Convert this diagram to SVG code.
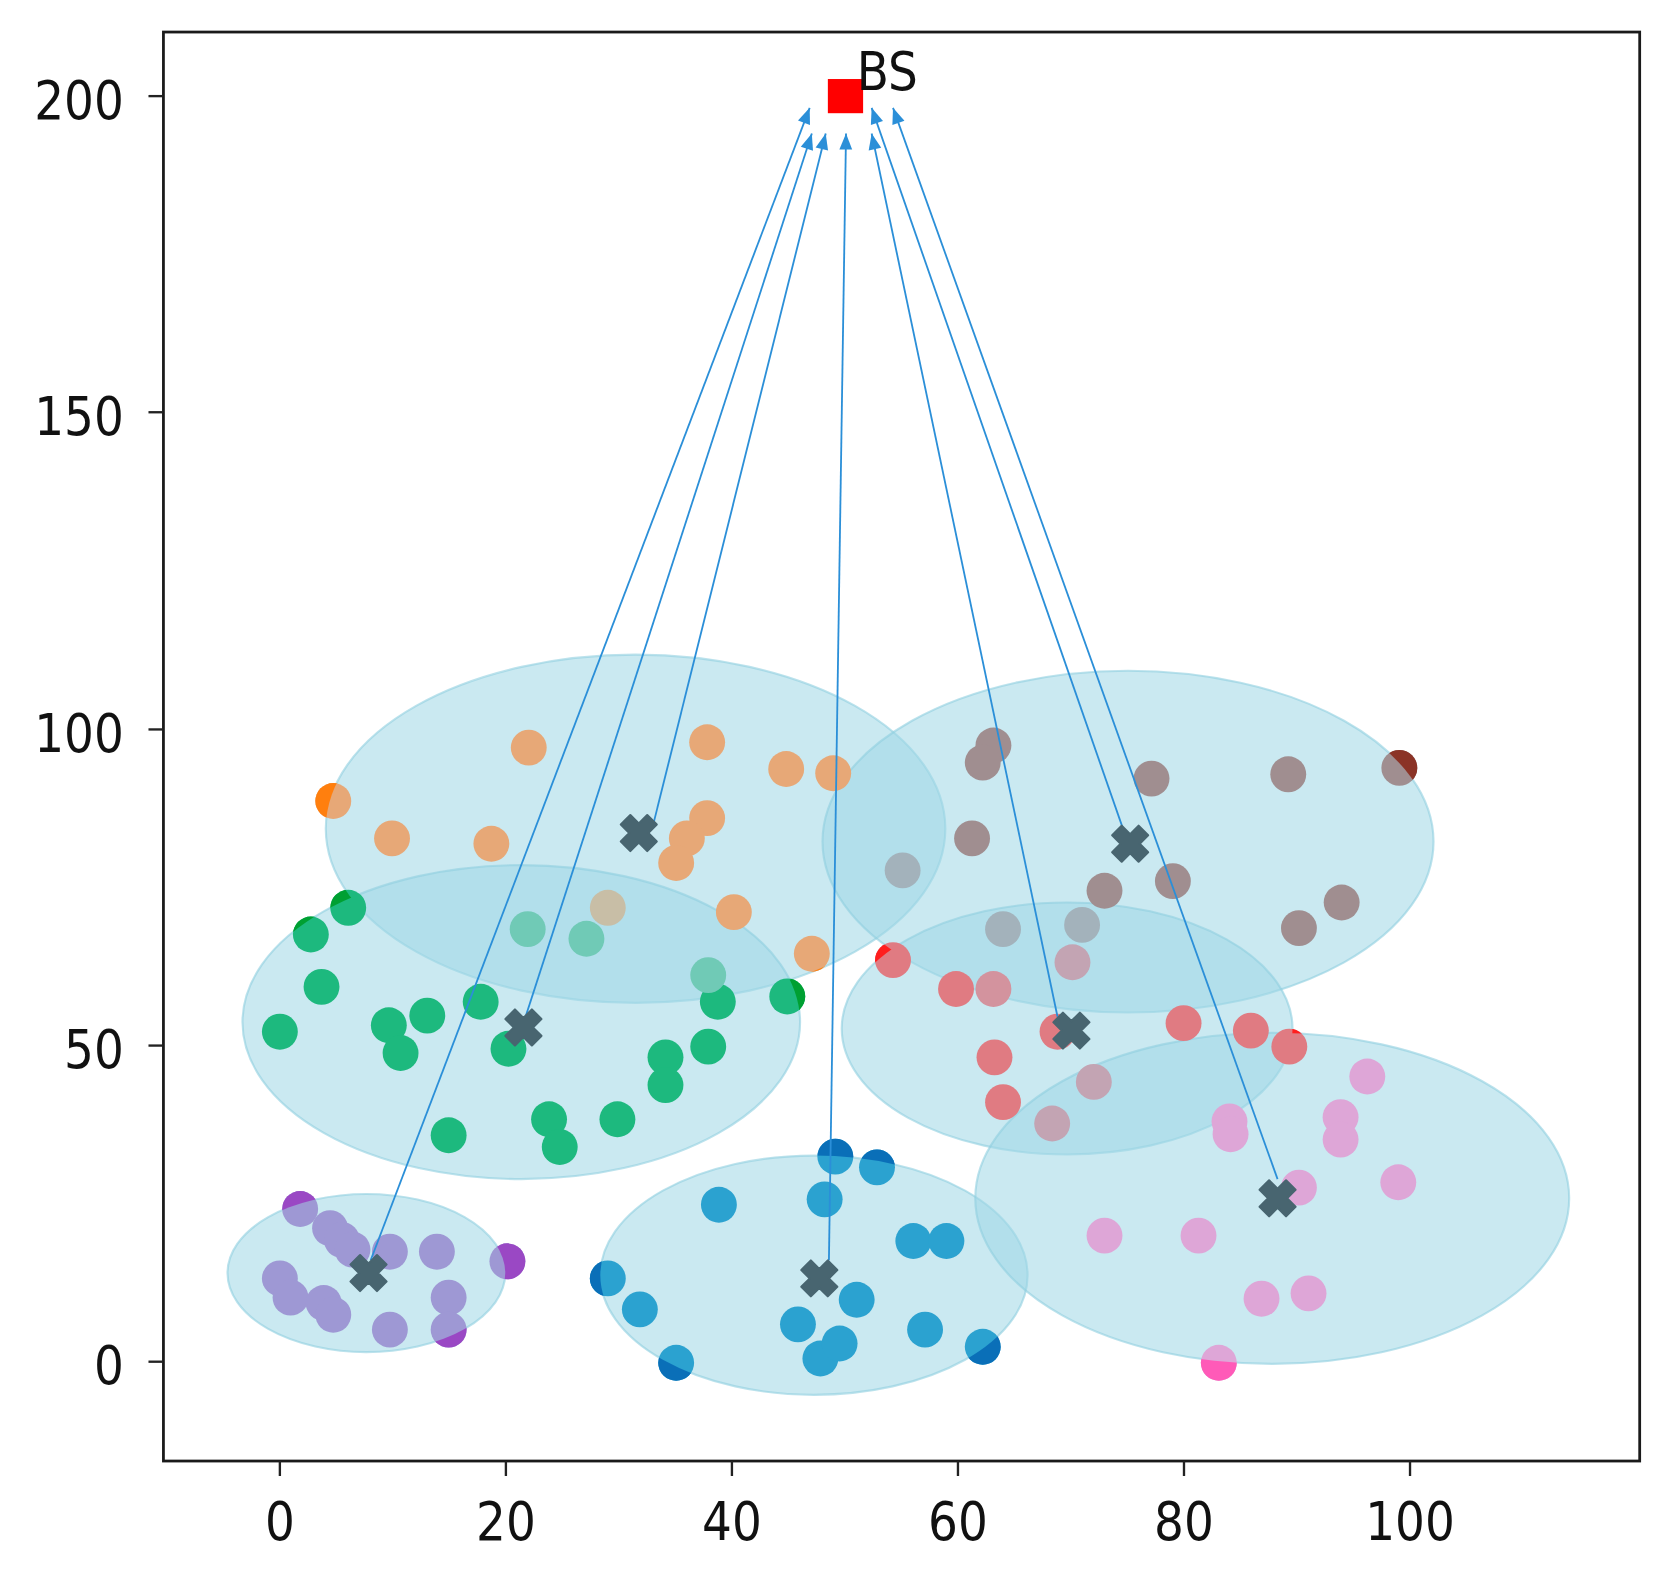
<svg xmlns="http://www.w3.org/2000/svg" width="1675" height="1570" viewBox="0 0 1675 1570">
<style>
.ell{fill:#9ed7e6;fill-opacity:0.55;stroke:#8fcfe0;stroke-opacity:0.6;stroke-width:2}
.conn{stroke:#2b8fd8;stroke-width:1.7;fill:none;marker-end:url(#ah)}
.tick{stroke:#222;stroke-width:2.2}
.lbl{font-family:"DejaVu Sans","Liberation Sans",sans-serif;font-size:44px;fill:#111}
.xm{fill:#486570}
</style>
<defs>
<marker id="ah" viewBox="-16 -7 16 14" refX="0" refY="0" markerWidth="16" markerHeight="14" markerUnits="userSpaceOnUse" orient="auto"><path d="M0,0 L-15,-6 L-15,6 Z" fill="#2b8fd8"/></marker>
<path id="xm" d="M-6.3,-17.5 H6.3 V-6.3 H17.5 V6.3 H6.3 V17.5 H-6.3 V6.3 H-17.5 V-6.3 H-6.3 Z" transform="rotate(45)" stroke="#486570" stroke-width="2" stroke-linejoin="round"/>
<g id="ells">
<ellipse cx="595" cy="776" rx="290" ry="163"/>
<ellipse cx="488" cy="957" rx="261" ry="147"/>
<ellipse cx="343" cy="1192" rx="130" ry="74"/>
<ellipse cx="762" cy="1194" rx="200" ry="112"/>
<ellipse cx="1056" cy="788" rx="286" ry="160"/>
<ellipse cx="999" cy="963" rx="211" ry="118"/>
<ellipse cx="1191" cy="1122" rx="278" ry="155"/>
</g>
<g id="d-or">
<circle cx="495" cy="700" r="16.8"/><circle cx="662" cy="695" r="16.8"/><circle cx="736" cy="720" r="16.8"/><circle cx="780" cy="724" r="16.8"/><circle cx="312" cy="750" r="16.8"/><circle cx="367" cy="785" r="16.8"/><circle cx="460" cy="790" r="16.8"/><circle cx="662" cy="766" r="16.8"/><circle cx="643" cy="785" r="16.8"/><circle cx="633" cy="808" r="16.8"/><circle cx="687" cy="854" r="16.8"/><circle cx="760" cy="893" r="16.8"/>
</g>
<g id="d-gr">
<circle cx="326" cy="850" r="16.8"/><circle cx="291" cy="875" r="16.8"/><circle cx="301" cy="924" r="16.8"/><circle cx="262" cy="966" r="16.8"/><circle cx="364" cy="960" r="16.8"/><circle cx="375" cy="986" r="16.8"/><circle cx="400" cy="951" r="16.8"/><circle cx="450" cy="938" r="16.8"/><circle cx="476" cy="982" r="16.8"/><circle cx="420" cy="1063" r="16.8"/><circle cx="514" cy="1048" r="16.8"/><circle cx="524" cy="1074" r="16.8"/><circle cx="578" cy="1048" r="16.8"/><circle cx="623" cy="990" r="16.8"/><circle cx="623" cy="1016" r="16.8"/><circle cx="663" cy="980" r="16.8"/><circle cx="672" cy="938" r="16.8"/><circle cx="737" cy="933" r="16.8"/>
</g>
<g id="d-pu">
<circle cx="281" cy="1132" r="16.8"/><circle cx="309" cy="1150" r="16.8"/><circle cx="320" cy="1161" r="16.8"/><circle cx="330" cy="1170" r="16.8"/><circle cx="365" cy="1172" r="16.8"/><circle cx="409" cy="1172" r="16.8"/><circle cx="475" cy="1181" r="16.8"/><circle cx="262" cy="1197" r="16.8"/><circle cx="272" cy="1215" r="16.8"/><circle cx="303" cy="1220" r="16.8"/><circle cx="312" cy="1231" r="16.8"/><circle cx="365" cy="1245" r="16.8"/><circle cx="420" cy="1215" r="16.8"/><circle cx="420" cy="1245" r="16.8"/>
</g>
<g id="d-bl">
<circle cx="782" cy="1083" r="16.8"/><circle cx="821" cy="1093" r="16.8"/><circle cx="673" cy="1128" r="16.8"/><circle cx="772" cy="1123" r="16.8"/><circle cx="855" cy="1162" r="16.8"/><circle cx="886" cy="1162" r="16.8"/><circle cx="569" cy="1197" r="16.8"/><circle cx="599" cy="1226" r="16.8"/><circle cx="633" cy="1276" r="16.8"/><circle cx="802" cy="1217" r="16.8"/><circle cx="747" cy="1240" r="16.8"/><circle cx="768" cy="1272" r="16.8"/><circle cx="786" cy="1258" r="16.8"/><circle cx="866" cy="1245" r="16.8"/><circle cx="920" cy="1261" r="16.8"/>
</g>
<g id="d-br">
<circle cx="930" cy="698" r="16.8"/><circle cx="920" cy="714" r="16.8"/><circle cx="1078" cy="729" r="16.8"/><circle cx="1206" cy="725" r="16.8"/><circle cx="1310" cy="719" r="16.8"/><circle cx="910" cy="785" r="16.8"/><circle cx="1034" cy="834" r="16.8"/><circle cx="1098" cy="825" r="16.8"/><circle cx="1256" cy="845" r="16.8"/><circle cx="1216" cy="869" r="16.8"/>
</g>
<g id="d-rd">
<circle cx="836" cy="899" r="16.8"/><circle cx="895" cy="926" r="16.8"/><circle cx="990" cy="966" r="16.8"/><circle cx="1108" cy="958" r="16.8"/><circle cx="1171" cy="965" r="16.8"/><circle cx="1207" cy="980" r="16.8"/><circle cx="931" cy="990" r="16.8"/><circle cx="939" cy="1032" r="16.8"/>
</g>
<g id="d-pk">
<circle cx="1280" cy="1008" r="16.8"/><circle cx="1151" cy="1050" r="16.8"/><circle cx="1152" cy="1062" r="16.8"/><circle cx="1255" cy="1046" r="16.8"/><circle cx="1255" cy="1067" r="16.8"/><circle cx="1309" cy="1107" r="16.8"/><circle cx="1216" cy="1112" r="16.8"/><circle cx="1034" cy="1157" r="16.8"/><circle cx="1122" cy="1157" r="16.8"/><circle cx="1181" cy="1216" r="16.8"/><circle cx="1225" cy="1211" r="16.8"/><circle cx="1141" cy="1276" r="16.8"/>
</g>
<mask id="outside" maskUnits="userSpaceOnUse" x="0" y="0" width="1568" height="1470">
<rect x="0" y="0" width="1568" height="1470" fill="#fff"/>
<use href="#ells" fill="#000"/>
</mask>
</defs>
<rect x="0" y="0" width="1675" height="1570" fill="#fff"/>
<g transform="scale(1.0682 1.068)">
<g id="ellipses"><use href="#ells" class="ell"/></g>
<g id="points-inside">
<use href="#d-or" fill="#e7a877"/>
<use href="#d-gr" fill="#1db97e"/>
<use href="#d-pu" fill="#9e98d4"/>
<use href="#d-bl" fill="#2ba2d0"/>
<use href="#d-br" fill="#a08e90"/>
<use href="#d-rd" fill="#e07b82"/>
<use href="#d-pk" fill="#dea6d7"/>
<circle cx="569" cy="850" r="16.8" fill="#c8bea6"/>
<circle cx="494" cy="870" r="16.8" fill="#70cab6"/><circle cx="549" cy="879" r="16.8" fill="#70cab6"/><circle cx="663" cy="913" r="16.8" fill="#70cab6"/>
<circle cx="845" cy="815" r="16.8" fill="#a3b2bb"/><circle cx="939" cy="870" r="16.8" fill="#a3b2bb"/><circle cx="1013" cy="866" r="16.8" fill="#a3b2bb"/>
<circle cx="930" cy="926" r="16.8" fill="#d3939e"/>
<circle cx="1004" cy="901" r="16.8" fill="#c3a4b3"/><circle cx="1024" cy="1013" r="16.8" fill="#c3a4b3"/><circle cx="985" cy="1052" r="16.8" fill="#c3a4b3"/>
</g>
<g id="points-outside" mask="url(#outside)">
<use href="#d-or" fill="#ff7f0e"/>
<use href="#d-gr" fill="#00a032"/>
<use href="#d-pu" fill="#9a48c4"/>
<use href="#d-bl" fill="#0a6fb8"/>
<use href="#d-br" fill="#8b3326"/>
<use href="#d-rd" fill="#ff1e1e"/>
<use href="#d-pk" fill="#ff5ab8"/>
</g>
<g id="connectors">
<line class="conn" x1="347" y1="1180" x2="758" y2="101"/>
<line class="conn" x1="492" y1="952" x2="760" y2="125"/>
<line class="conn" x1="612" y1="770" x2="773" y2="125"/>
<line class="conn" x1="776" y1="1180" x2="792" y2="125"/>
<line class="conn" x1="990" y1="952" x2="816" y2="125"/>
<line class="conn" x1="1052" y1="778" x2="816" y2="101"/>
<line class="conn" x1="1196" y1="1104" x2="836" y2="101"/>
</g>
<g id="ch-purple" class="xm"><use href="#xm" x="345" y="1192"/></g>
<g id="ch-green" class="xm"><use href="#xm" x="490" y="962"/></g>
<g id="ch-orange" class="xm"><use href="#xm" x="598" y="780"/></g>
<g id="ch-blue" class="xm"><use href="#xm" x="767" y="1197"/></g>
<g id="ch-red" class="xm"><use href="#xm" x="1003" y="965"/></g>
<g id="ch-brown" class="xm"><use href="#xm" x="1058" y="790"/></g>
<g id="ch-pink" class="xm"><use href="#xm" x="1196" y="1122"/></g>
<g id="bs">
<rect x="775" y="74" width="33" height="32" fill="#ff0000"/>
<text class="lbl" transform="translate(802 84) scale(1 1.15)" x="0" y="0">BS</text>
</g>
<g id="axes">
<rect x="153" y="30" width="1382" height="1338" fill="none" stroke="#1a1a1a" stroke-width="2.6"/>
<line class="tick" x1="139" y1="90" x2="153" y2="90"/>
<line class="tick" x1="139" y1="386" x2="153" y2="386"/>
<line class="tick" x1="139" y1="683" x2="153" y2="683"/>
<line class="tick" x1="139" y1="979" x2="153" y2="979"/>
<line class="tick" x1="139" y1="1275" x2="153" y2="1275"/>
<line class="tick" x1="262" y1="1368" x2="262" y2="1382"/>
<line class="tick" x1="473.6" y1="1368" x2="473.6" y2="1382"/>
<line class="tick" x1="685.2" y1="1368" x2="685.2" y2="1382"/>
<line class="tick" x1="896.8" y1="1368" x2="896.8" y2="1382"/>
<line class="tick" x1="1108.4" y1="1368" x2="1108.4" y2="1382"/>
<line class="tick" x1="1320" y1="1368" x2="1320" y2="1382"/>
<g text-anchor="end">
<text class="lbl" transform="translate(116 111) scale(1 1.15)">200</text>
<text class="lbl" transform="translate(116 407) scale(1 1.15)">150</text>
<text class="lbl" transform="translate(116 704) scale(1 1.15)">100</text>
<text class="lbl" transform="translate(116 1000) scale(1 1.15)">50</text>
<text class="lbl" transform="translate(116 1296) scale(1 1.15)">0</text>
</g>
<g text-anchor="middle">
<text class="lbl" transform="translate(262 1442) scale(1 1.15)">0</text>
<text class="lbl" transform="translate(473.6 1442) scale(1 1.15)">20</text>
<text class="lbl" transform="translate(685.2 1442) scale(1 1.15)">40</text>
<text class="lbl" transform="translate(896.8 1442) scale(1 1.15)">60</text>
<text class="lbl" transform="translate(1108.4 1442) scale(1 1.15)">80</text>
<text class="lbl" transform="translate(1320 1442) scale(1 1.15)">100</text>
</g>
</g>
</g>
</svg>
